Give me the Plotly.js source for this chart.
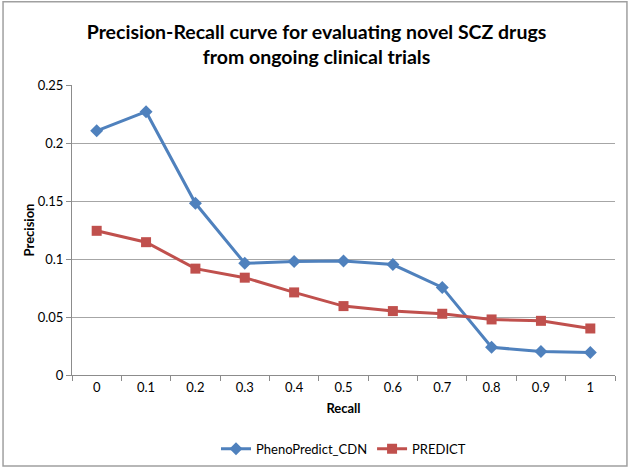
<!DOCTYPE html>
<html>
<head>
<meta charset="utf-8">
<script src="https://cdn.plot.ly/plotly-3.0.1.min.js"></script>
<style>
  html, body { margin: 0; padding: 0; background: white; }
  #chart { width: 633px; height: 471px; }
</style>
</head>
<body>
<div id="chart"></div>
<script>
  // Recall levels (x categories) and precision for each method
  const recall = ["0", "0.1", "0.2", "0.3", "0.4", "0.5", "0.6", "0.7", "0.8", "0.9", "1"];
  const phenoPredict = [0.2105, 0.227, 0.148, 0.0963, 0.0978, 0.0983, 0.0952, 0.0755, 0.0239, 0.0202, 0.0193];
  const predict = [0.1243, 0.1145, 0.0917, 0.0839, 0.0712, 0.0594, 0.0551, 0.0528, 0.0479, 0.0467, 0.0401];
  const yTicks = [0, 0.05, 0.1, 0.15, 0.2, 0.25];
  const yTickText = ["0", "0.05", "0.1", "0.15", "0.2", "0.25"];

  const font = "Lato, Open Sans, sans-serif";
  const axisGray = "#8c8c8c";

  const traces = [
    {
      type: "scatter",
      mode: "lines+markers",
      name: "PhenoPredict_CDN",
      x: recall,
      y: phenoPredict,
      line: { color: "#4f81bd", width: 3 },
      marker: { symbol: "diamond", size: 10, color: "#4f81bd" }
    },
    {
      type: "scatter",
      mode: "lines+markers",
      name: "PREDICT",
      x: recall,
      y: predict,
      line: { color: "#c0504d", width: 3 },
      marker: { symbol: "square", size: 10, color: "#c0504d" }
    }
  ];

  const layout = {
    width: 633,
    height: 471,
    margin: { l: 72, r: 18, t: 85, b: 96 },
    paper_bgcolor: "white",
    plot_bgcolor: "white",
    font: { family: font, size: 13, color: "#000" },
    title: {
      text: "<b>Precision-Recall curve for evaluating novel SCZ drugs<br>from ongoing clinical trials</b>",
      x: 0.5,
      xanchor: "center",
      y: 0.918,
      yanchor: "middle",
      font: { family: font, size: 19.5, color: "#000" }
    },
    xaxis: {
      type: "category",
      range: [-0.5, 10.5],
      tickson: "boundaries",
      ticks: "outside",
      ticklen: 5,
      tickcolor: axisGray,
      showline: true,
      linecolor: axisGray,
      showgrid: false,
      zeroline: false,
      tickfont: { size: 13 },
      title: { text: "<b>Recall</b>", font: { size: 13 }, standoff: 10 }
    },
    yaxis: {
      range: [0, 0.25],
      tickvals: yTicks,
      ticktext: yTickText,
      ticks: "outside",
      ticklen: 5,
      tickcolor: axisGray,
      showline: true,
      linecolor: axisGray,
      showgrid: true,
      gridcolor: "#a6a6a6",
      zeroline: false,
      tickfont: { size: 13 },
      title: { text: "<b>Precision</b>", font: { size: 13 }, standoff: 0 }
    },
    showlegend: true,
    legend: {
      orientation: "h",
      x: 0.5,
      xanchor: "center",
      yref: "container",
      y: 0.047,
      yanchor: "middle",
      font: { size: 13 }
    },
    shapes: [{
      type: "rect",
      xref: "paper",
      yref: "paper",
      x0: -0.127,
      x1: 1.022,
      y0: -0.314,
      y1: 1.287,
      line: { color: "#a0a0a0", width: 1.5 }
    }]
  };

  Plotly.newPlot("chart", traces, layout, { displayModeBar: false, staticPlot: true });
</script>
</body>
</html>
